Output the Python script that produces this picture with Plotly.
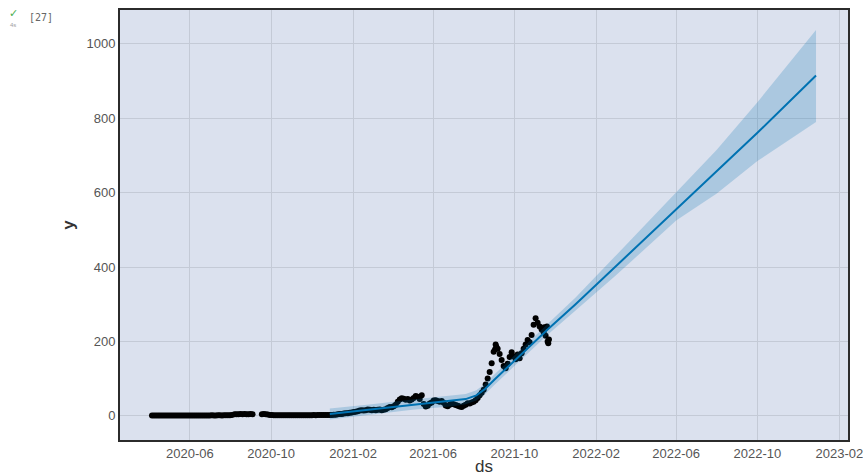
import pandas as pd
import plotly.graph_objects as go

# ---------------- observed points (black dots) ----------------
# 2020 flat segments, 3-day spacing
seg_a_start = "2020-04-05"
seg_a_vals = [1.0, 1.1, 0.9, 1.0, 1.2, 1.0, 0.9, 1.1, 1.0, 1.0, 1.2, 1.1, 1.0, 0.9,
              1.0, 1.1, 1.0, 1.2, 1.0, 1.1, 1.0, 0.9, 1.0, 1.1, 1.2, 1.0, 1.0, 1.1,
              1.0, 1.2, 1.3, 1.1, 1.2, 1.4, 1.3, 1.2, 1.5, 1.4, 1.6, 1.8, 2.0]
seg_b_start = "2020-08-07"
seg_b_vals = [4.0, 4.5, 4.2, 4.6, 4.3, 4.8, 4.5, 4.4, 4.7, 4.5]
seg_c_start = "2020-09-17"
seg_c_vals = [4.5, 4.8, 4.4, 3.5, 2.5, 2.0]
seg_d_start = "2020-10-05"
seg_d_vals = [1.5, 1.4, 1.5, 1.6, 1.4, 1.5, 1.5, 1.6, 1.5, 1.4, 1.5, 1.6, 1.5, 1.5,
              1.6, 1.7, 1.6, 1.8, 1.7, 1.8, 1.9, 1.8, 2.0, 1.9, 2.1, 2.0, 2.2, 2.1]
# 2020-12-28 onward, 3-day spacing
seg_e_start = "2020-12-28"
seg_e_vals = [2, 2, 3, 3, 4, 5, 5, 6, 7, 7, 8, 9, 10, 11, 12, 14, 15, 14, 15, 17,
              16, 15, 16, 15, 16, 17, 15, 16, 18, 21, 24, 23, 26, 30, 38, 44, 47, 46,
              43, 45, 41, 44, 48, 53, 51, 45, 55, 32, 25, 27, 33, 36, 41, 42, 40, 38,
              40, 35, 28, 26, 30, 33, 31, 29, 27, 25, 24, 27, 30, 34, 33, 36, 38, 42,
              48, 55, 62, 70, 84, 100, 118, 141, 172, 192, 180, 166, 150, 134, 128,
              140, 158, 171, 160, 152, 165, 155, 168, 180, 192, 204, 198, 217, 245,
              262, 250, 240, 232, 225, 215, 200]
extra_dates = ["2021-11-19", "2021-11-21", "2021-11-22", "2021-11-15", "2021-09-04", "2021-09-02"]
extra_vals = [240, 195, 205, 238, 186, 178]

# ---------------- forecast (trend line and uncertainty band) ----------------
fc_dates = ["2020-12-28", "2021-03-01", "2021-05-01", "2021-07-01", "2021-07-20",
            "2021-08-05", "2021-08-18", "2021-09-01", "2021-11-20", "2022-01-01",
            "2022-03-01", "2022-06-01", "2022-08-01", "2022-10-01", "2022-12-28"]
yhat = [5, 17, 30, 40, 45, 55, 72, 97, 232, 300, 400, 555, 658, 761, 915]
yhat_lower = [-10, 3, 16, 26, 31, 41, 58, 83, 218, 283, 375, 525, 598, 685, 790]
yhat_upper = [20, 31, 44, 54, 59, 69, 86, 111, 246, 318, 428, 600, 715, 843, 1037]

# ---------------- axes ----------------
x_tick_vals = ["2020-06-01", "2020-10-01", "2021-02-01", "2021-06-01", "2021-10-01",
               "2022-02-01", "2022-06-01", "2022-10-01", "2023-02-01"]
x_tick_text = ["2020-06", "2020-10", "2021-02", "2021-06", "2021-10",
               "2022-02", "2022-06", "2022-10", "2023-02"]
y_tick_vals = [0, 200, 400, 600, 800, 1000]


def seg(start, vals):
    return list(pd.date_range(start, periods=len(vals), freq="3D")), list(vals)


obs_x, obs_y = [], []
for s, v in [(seg_a_start, seg_a_vals), (seg_b_start, seg_b_vals), (seg_c_start, seg_c_vals),
             (seg_d_start, seg_d_vals), (seg_e_start, seg_e_vals)]:
    dx, dy = seg(s, v)
    obs_x += dx
    obs_y += dy
obs_x += list(pd.to_datetime(extra_dates))
obs_y += extra_vals

fc_x = pd.to_datetime(fc_dates)
blue = "#0072B2"

fig = go.Figure()
fig.add_trace(go.Scatter(x=obs_x, y=obs_y, mode="markers",
                         marker=dict(color="black", size=6, line=dict(width=0)),
                         showlegend=False, hoverinfo="x+y"))
fig.add_trace(go.Scatter(x=fc_x, y=yhat, mode="lines",
                         line=dict(color=blue, width=2), showlegend=False))
fig.add_trace(go.Scatter(x=fc_x, y=yhat_lower, mode="lines",
                         line=dict(width=0, color="rgba(0,114,178,0)"), showlegend=False))
fig.add_trace(go.Scatter(x=fc_x, y=yhat_upper, mode="lines", fill="tonexty",
                         fillcolor="rgba(0,114,178,0.22)",
                         line=dict(width=0, color="rgba(0,114,178,0)"), showlegend=False))

font_family = "Liberation Sans, Arial, sans-serif"
fig.update_layout(
    width=863, height=476,
    margin=dict(l=120, r=15, t=10, b=36),
    paper_bgcolor="white",
    plot_bgcolor="#dbe1ee",
    font=dict(family=font_family, color="#555555", size=13),
    xaxis=dict(
        range=["2020-02-17", "2023-02-14"],
        tickvals=list(pd.to_datetime(x_tick_vals)), ticktext=x_tick_text,
        showgrid=True, gridcolor="#c4cad6", gridwidth=1,
        showline=True, linecolor="#2b2b2b", linewidth=2, mirror=True,
        ticks="", zeroline=False, automargin=False, ticklabeloverflow="allow",
        tickfont=dict(size=13, color="#555555"),
        title=dict(text="ds", font=dict(size=17, color="#333333", family=font_family), standoff=2),
    ),
    yaxis=dict(
        range=[-65, 1091],
        tickvals=y_tick_vals,
        showgrid=True, gridcolor="#c4cad6", gridwidth=1,
        showline=True, linecolor="#2b2b2b", linewidth=2, mirror=True,
        ticks="", zeroline=False, automargin=False,
        tickfont=dict(size=13, color="#555555"),
        title=dict(text="<b>y</b>", font=dict(size=17, color="#333333", family=font_family), standoff=8),
    ),
)

# notebook cell marker in the corner
fig.add_annotation(x=-120 / 728 + 13 / 728, y=1 + (10 - 13) / 430, xref="paper", yref="paper",
                   text="✓", showarrow=False, font=dict(size=11, color="#4caf50"),
                   xanchor="center", yanchor="middle")
fig.add_annotation(x=-120 / 728 + 13 / 728, y=1 + (10 - 25) / 430, xref="paper", yref="paper",
                   text="4s", showarrow=False, font=dict(size=6, color="#9e9e9e"),
                   xanchor="center", yanchor="middle")
fig.add_annotation(x=-120 / 728 + 27 / 728, y=1 + (10 - 17) / 430, xref="paper", yref="paper",
                   text="[27]", showarrow=False,
                   font=dict(size=10, color="#666666", family="DejaVu Sans Mono, monospace"),
                   xanchor="left", yanchor="middle")

fig.write_html("out.html")
